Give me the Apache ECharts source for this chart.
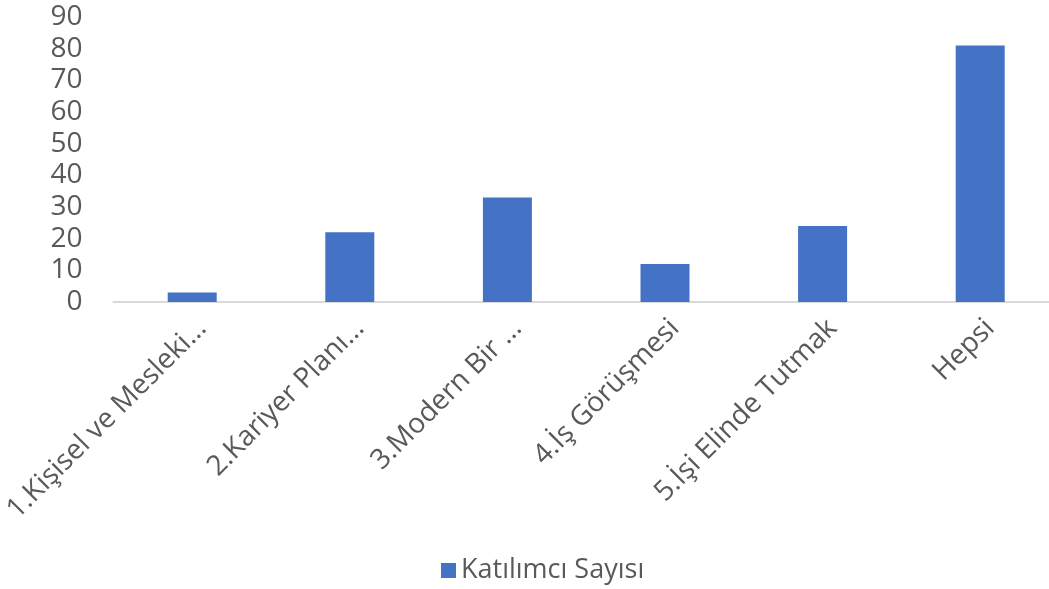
<!DOCTYPE html>
<html>
<head>
<meta charset="utf-8">
<script src="https://cdn.jsdelivr.net/npm/echarts@6/dist/echarts.min.js"></script>
<style>
  html, body { margin: 0; padding: 0; background: #fff; overflow: hidden; }
  #chart { width: 1059px; height: 589px; }
</style>
</head>
<body>
<div id="chart"></div>
<script>
var categories = ['1.Kişisel ve Mesleki…', '2.Kariyer Planı…', '3.Modern Bir …', '4.İş Görüşmesi', '5.İşi Elinde Tutmak', 'Hepsi'];
var participants = [3, 22, 33, 12, 24, 81];
var seriesName = 'Katılımcı Sayısı';

var textColor = '#595959';
var font = '"Open Sans", "Noto Sans", sans-serif';

// the plot area runs a little past the right edge of the picture, as in the original
var myChart = echarts.init(document.getElementById('chart'));
var option = {
    animation: false,
    textStyle: { fontFamily: font },
    grid: {
        left: 112,
        right: 0,
        top: 17,
        bottom: 287,
        containLabel: false
    },
    legend: {
        data: [seriesName],
        left: 441,
        top: 557,
        padding: 0,
        icon: 'rect',
        itemWidth: 15,
        itemHeight: 15,
        itemGap: 8,
        textStyle: { color: textColor, fontSize: 27, fontFamily: font }
    },
    xAxis: {
        type: 'category',
        data: categories,
        axisLine: { lineStyle: { color: '#D9D9D9', width: 2 } },
        axisTick: { show: false },
        axisLabel: {
            rotate: 45,
            interval: 0,
            margin: 12,
            verticalAlign: 'top',
            color: textColor,
            fontSize: 28,
            fontFamily: font
        }
    },
    yAxis: {
        type: 'value',
        min: 0,
        max: 90,
        interval: 10,
        axisLine: { show: false },
        axisTick: { show: false },
        splitLine: { show: false },
        axisLabel: {
            margin: 31,
            color: textColor,
            fontSize: 28,
            fontFamily: font
        }
    },
    series: [
        {
            name: seriesName,
            type: 'bar',
            data: participants,
            barWidth: 49,
            itemStyle: { color: '#4472C4' }
        }
    ]
};
myChart.setOption(option);
</script>
</body>
</html>
